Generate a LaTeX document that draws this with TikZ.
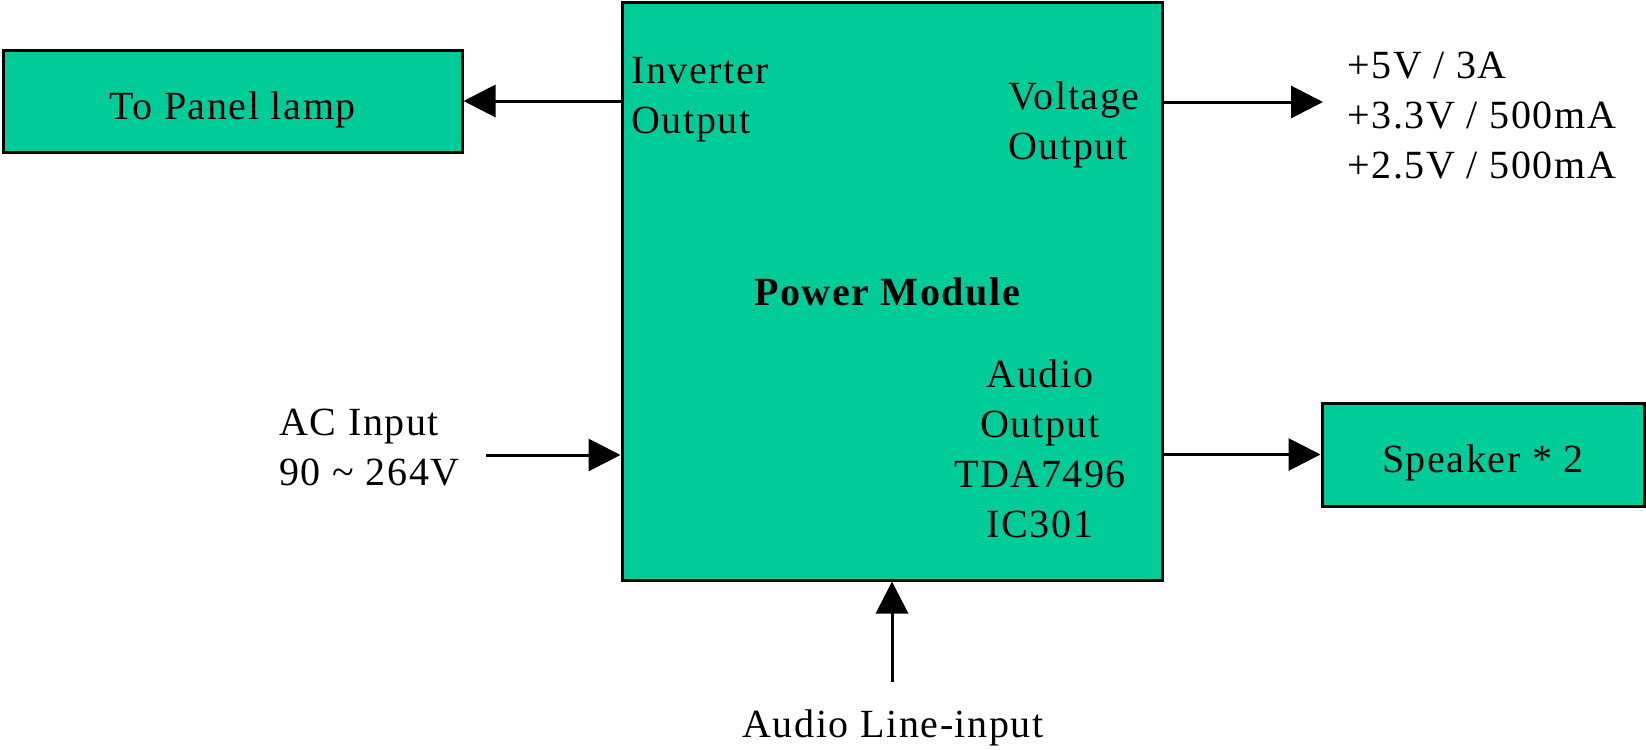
\documentclass[tikz,border=0pt]{standalone}
\usepackage{fontspec}
\setmainfont{Liberation Serif}[LetterSpace=4]
\usetikzlibrary{arrows.meta}
\definecolor{modgreen}{RGB}{0,204,153}

\begin{document}
\begin{tikzpicture}[x=0.5pt, y=-0.5pt, >={Triangle[length=16pt,width=16pt]},
    every node/.style={font=\fontsize{20}{25}\selectfont},
    box/.style={draw, line width=1.5pt, fill=modgreen, inner sep=0pt, text height=18pt, text depth=0pt},
    txt/.style={inner sep=0pt},
    arr/.style={->, line width=1.5pt}]
    \useasboundingbox (0,0) rectangle (1646,750);

    % Blocks
    \node [box, minimum width=270pt, minimum height=289pt] (pm) at (892,291) {};
    \node [box, minimum width=229.5pt, minimum height=51pt] (lamp) at (232.5,101) {To Panel lamp};
    \node [box, minimum width=161pt, minimum height=51.5pt] (spk) at (1483,454.5) {Speaker * 2};

    % Texts inside the power module
    \node [txt, font=\fontsize{20}{25}\selectfont\bfseries] (pmname) at (887,292) {Power Module};
    \node [txt, anchor=west, align=left] (invout) at (631,100) {Inverter\\Output};
    \node [txt, anchor=west, align=left] (vout) at (1008,125) {Voltage\\Output};
    \node [txt, align=center] (aout) at (1040,449) {Audio\\Output\\TDA7496\\IC301};

    % Texts outside
    \node [txt, anchor=west, align=left] (rails) at (1347,116) {+5V / 3A\\+3.3V / 500mA\\+2.5V / 500mA};
    \node [txt, anchor=west, align=left] (acin) at (279,448) {AC Input\\90 \char`\~{} 264V};
    \node [txt] (linein) at (893,728) {Audio Line-input};

    % Free ends
    \coordinate (railtip) at (1323,102);
    \coordinate (acend) at (486,455);
    \coordinate (lineend) at (892,682);

    % Connectors
    \draw [arr] (lamp.east -| pm.west) -- (lamp.east);
    \draw [arr] (railtip -| pm.east) -- (railtip);
    \draw [arr] (spk.west -| pm.east) -- (spk.west);
    \draw [arr] (acend) -- (acend -| pm.west);
    \draw [arr] (lineend) -- (pm.south);
\end{tikzpicture}
\end{document}
